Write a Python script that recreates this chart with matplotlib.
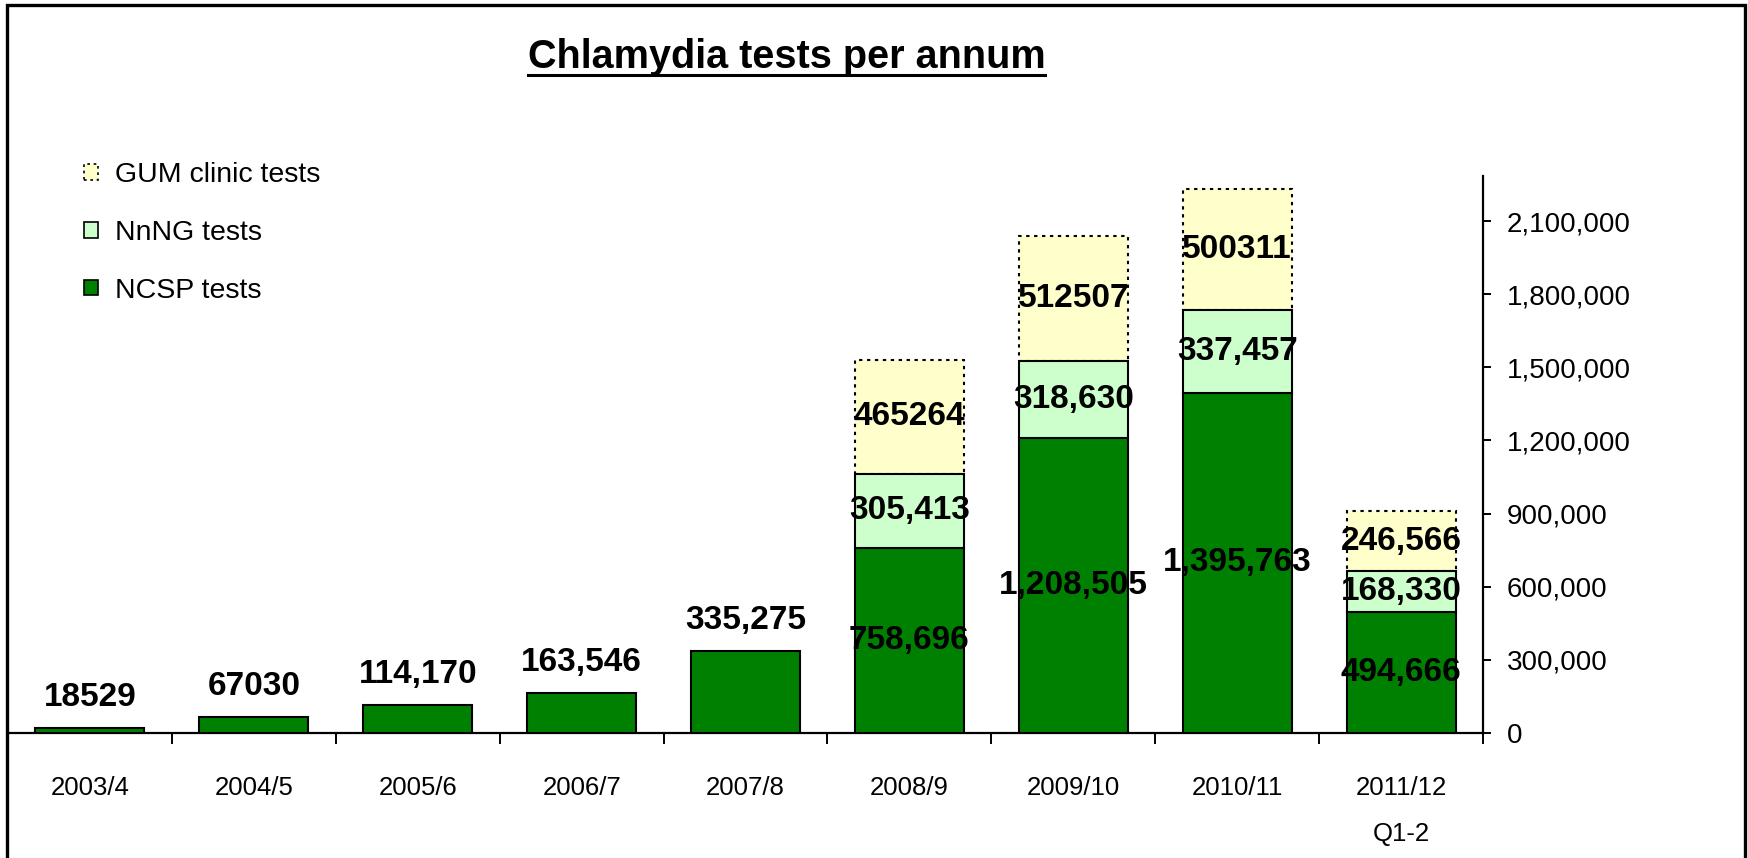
import matplotlib
matplotlib.use("Agg")
import matplotlib.pyplot as plt
from matplotlib.patches import Patch, Rectangle
from matplotlib.lines import Line2D
import numpy as np

# =========================
# DATA
# =========================

YEARS = ["2003/4", "2004/5", "2005/6", "2006/7", "2007/8",
         "2008/9", "2009/10", "2010/11", "2011/12\nQ1-2"]

NCSP = [18529, 67030, 114170, 163546, 335275, 758696, 1208505, 1395763, 494666]
NNNG = [0, 0, 0, 0, 0, 305413, 318630, 337457, 168330]
GUM = [0, 0, 0, 0, 0, 465264, 512507, 500311, 246566]

NCSP_LABELS = ["18529", "67030", "114,170", "163,546", "335,275",
               "758,696", "1,208,505", "1,395,763", "494,666"]
NNNG_LABELS = ["", "", "", "", "", "305,413", "318,630", "337,457", "168,330"]
GUM_LABELS = ["", "", "", "", "", "465264", "512507", "500311", "246,566"]

Y_TICKS = [0, 300000, 600000, 900000, 1200000, 1500000, 1800000, 2100000]

TITLE = "Chlamydia tests per annum"

# =========================
# STYLE
# =========================

FONT = ["Liberation Sans", "DejaVu Sans"]
C_NCSP = "#008000"
C_NNNG = "#ccffcc"
C_GUM = "#ffffcc"
EDGE_LW = 1.5
DOTS = (0, (1.6, 2.2))


def main():

    plt.rcParams["font.family"] = FONT

    fig = plt.figure(figsize=(17.48, 8.58), dpi=100)
    ax = fig.add_axes([0.0046, 0.1457, 0.8438, 0.6492])

    x = np.arange(len(YEARS))
    ncsp = np.array(NCSP)
    nnng = np.array(NNNG)
    gum = np.array(GUM)
    width = 0.665

    stacked = nnng > 0

    # NCSP bars (all years)
    ax.bar(x, ncsp, width, color=C_NCSP, edgecolor="black",
           linewidth=EDGE_LW, zorder=3)

    # GUM bars, dotted outline, drawn under NnNG so its solid top shows
    ax.bar(x[stacked], gum[stacked], width,
           bottom=(ncsp + nnng)[stacked], color=C_GUM,
           edgecolor="black", linewidth=EDGE_LW, linestyle=DOTS, zorder=2)

    # NnNG bars
    ax.bar(x[stacked], nnng[stacked], width, bottom=ncsp[stacked],
           color=C_NNNG, edgecolor="black", linewidth=EDGE_LW, zorder=3)

    # =========================
    # VALUE LABELS
    # =========================

    lab = dict(fontsize=24, fontweight="bold", ha="center", va="center",
               zorder=5)

    for i in x:
        if stacked[i]:
            ax.text(i, ncsp[i] / 2, NCSP_LABELS[i], **lab)
            ax.text(i, ncsp[i] + nnng[i] / 2, NNNG_LABELS[i], **lab)
            ax.text(i, ncsp[i] + nnng[i] + gum[i] / 2, GUM_LABELS[i], **lab)
        else:
            ax.annotate(NCSP_LABELS[i], (i, ncsp[i]), xytext=(0, 22),
                        textcoords="offset points", **lab)

    # =========================
    # AXES
    # =========================

    ax.set_xlim(-0.5, len(YEARS) - 0.5)
    ax.set_ylim(0, 2285000)

    ax.spines["top"].set_visible(False)
    ax.spines["left"].set_visible(False)
    ax.spines["bottom"].set_linewidth(1.6)
    ax.spines["right"].set_linewidth(1.6)

    ax.set_xticks(x)
    ax.set_xticklabels(YEARS, fontsize=18.5)
    ax.set_xticks(x + 0.5, minor=True)
    ax.tick_params(axis="x", which="major", length=0, pad=31)
    ax.tick_params(axis="x", which="minor", direction="out", length=8,
                   width=1.4)
    ax.get_xticklabels()[-1].set_linespacing(2.15)

    ax.yaxis.tick_right()
    ax.set_yticks(Y_TICKS)
    ax.set_yticklabels([f"{v:,}" for v in Y_TICKS], fontsize=20)
    ax.tick_params(axis="y", direction="out", length=6, width=1.4, pad=11)

    # =========================
    # LEGEND
    # =========================

    handles = [
        Patch(facecolor=C_GUM, edgecolor="black", linewidth=1.2,
              linestyle=DOTS, label="GUM clinic tests"),
        Patch(facecolor=C_NNNG, edgecolor="black", linewidth=1.2,
              label="NnNG tests"),
        Patch(facecolor=C_NCSP, edgecolor="black", linewidth=1.2,
              label="NCSP tests"),
    ]

    fig.legend(
        handles=handles,
        loc="upper left",
        bbox_to_anchor=(0.040, 0.828),
        frameon=False,
        fontsize=20.5,
        handlelength=0.48,
        handleheight=0.48,
        handletextpad=0.6,
        labelspacing=1.12,
        borderpad=0,
    )

    # =========================
    # TITLE (underlined) + FRAME
    # =========================

    title = fig.text(0.450, 0.933, TITLE, fontsize=28.5, fontweight="bold",
                     ha="center", va="center")

    fig.canvas.draw()
    bb = title.get_window_extent()
    fw, fh = fig.bbox.width, fig.bbox.height
    y_ul = (bb.y0 + 1) / fh
    fig.add_artist(Line2D([bb.x0 / fw, bb.x1 / fw], [y_ul, y_ul],
                          color="black", linewidth=2.2,
                          transform=fig.transFigure))

    fig.add_artist(Rectangle((0.0042, -0.2), 0.9940, 1.194,
                             transform=fig.transFigure, fill=False,
                             edgecolor="black", linewidth=2.4))

    fig.savefig("out.png", dpi=100, facecolor="white")


if __name__ == "__main__":
    main()
